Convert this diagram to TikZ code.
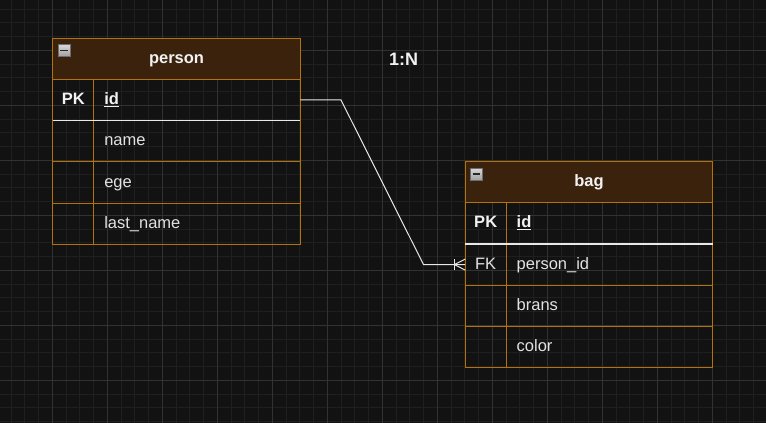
\documentclass[tikz,border=0pt]{standalone}
\usepackage{fontspec}
\setmainfont{Liberation Sans}
\definecolor{bgc}{RGB}{18,18,18}
\definecolor{gminor}{RGB}{31,31,31}
\definecolor{gmajor}{RGB}{50,50,50}
\definecolor{ero}{RGB}{180,115,10}
\definecolor{hdrfill}{RGB}{58,34,12}
\definecolor{txt}{RGB}{226,226,226}
\definecolor{txtw}{RGB}{242,242,242}
\definecolor{conncol}{RGB}{232,232,232}
\definecolor{iconbd}{RGB}{110,110,110}
\definecolor{icontop}{RGB}{215,215,215}
\definecolor{iconbot}{RGB}{160,160,160}
\definecolor{icondash}{RGB}{40,40,40}
\begin{document}
\begin{tikzpicture}[x=1pt,y=-1pt,
  every node/.style={outer sep=0pt, font=\fontsize{16.5}{19}\selectfont},
  hdr/.style={draw=ero, fill=hdrfill, line width=1pt, anchor=north west,
    minimum width=247.5pt, minimum height=41.3pt, inner sep=0pt, text=txtw,
    font=\fontsize{16.5}{19}\selectfont\bfseries, text height=12pt, text depth=2.8pt},
  keyc/.style={draw=ero, line width=1pt, anchor=north west, minimum width=41pt,
    minimum height=41.25pt, inner sep=0pt, text height=12pt, text depth=2.8pt, text=txt},
  keyb/.style={keyc, font=\fontsize{16.5}{19}\selectfont\bfseries, text=txtw},
  fieldc/.style={draw=ero, line width=1pt, anchor=north west, text width=185.5pt,
    inner xsep=10.5pt, inner ysep=0pt, minimum height=41.25pt, align=left,
    text height=12pt, text depth=2.8pt, text=txt},
  fieldb/.style={fieldc, font=\fontsize{16.5}{19}\selectfont\bfseries, text=txtw},
  minusicon/.style={draw=iconbd, line width=0.8pt, minimum size=12pt, inner sep=0pt,
    top color=icontop, bottom color=iconbot,
    path picture={\draw[icondash, line width=1.8pt]
      ([xshift=2.3pt]path picture bounding box.west) --
      ([xshift=-2.3pt]path picture bounding box.east);}},
  sepline/.style={draw=conncol, line width=1.3pt},
  conn/.style={draw=conncol, line width=1pt, line join=miter},
  gridminor/.style={draw=gminor, line width=1pt},
  gridmajor/.style={draw=gmajor, line width=1pt}
]
\useasboundingbox (0,0) rectangle (766,423);
\fill[bgc] (0,0) rectangle (766,423);
\begin{scope}
  \clip (0,0) rectangle (766,423);
  \foreach \i in {0,...,55} \draw[gridminor] ({11.05+13.75*\i},0) -- ++(0,423);
  \foreach \j in {0,...,30} \draw[gridminor] (0,{9.05+13.75*\j}) -- ++(766,0);
  \foreach \i in {0,...,13} \draw[gridmajor] ({52.3+55*\i},0) -- ++(0,423);
  \foreach \j in {0,...,7} \draw[gridmajor] (0,{50.3+55*\j}) -- ++(766,0);
\end{scope}

% person table
\node[hdr] (person) at (52.8,38) {person};
\node[minusicon] (p-min) at (64,50.5) {};
\node[keyb] (p-idk) at (person.south west) {PK};
\node[fieldb] (p-idf) at (p-idk.north east) {\underline{id}};
\node[keyc] (p-namek) at (p-idk.south west) {};
\node[fieldc] (p-namef) at (p-namek.north east) {name};
\node[keyc] (p-egek) at (p-namek.south west) {};
\node[fieldc] (p-egef) at (p-egek.north east) {ege};
\node[keyc] (p-lastk) at (p-egek.south west) {};
\node[fieldc] (p-lastf) at (p-lastk.north east) {last\_name};
\draw[sepline] (p-idk.south west) -- (p-idf.south east);

% bag table
\node[hdr, minimum height=41pt] (bag) at (465.2,161.7) {bag};
\node[minusicon] (b-min) at (476.4,174.2) {};
\node[keyb] (b-idk) at (bag.south west) {PK};
\node[fieldb] (b-idf) at (b-idk.north east) {\underline{id}};
\node[keyc] (b-fkk) at (b-idk.south west) {FK};
\node[fieldc] (b-fkf) at (b-fkk.north east) {person\_id};
\node[keyc] (b-bransk) at (b-fkk.south west) {};
\node[fieldc] (b-bransf) at (b-bransk.north east) {brans};
\node[keyc] (b-colk) at (b-bransk.south west) {};
\node[fieldc] (b-colf) at (b-colk.north east) {color};
\draw[sepline] (b-idk.south west) -- (b-idf.south east);

% cardinality label
\node[font=\fontsize{18}{21}\selectfont\bfseries, text=txtw, anchor=base, inner sep=0pt]
  (card) at (403.7,65.7) {1:N};

% connector
\draw[conn] (p-idf.east) -- ++(40.7,0) -- ([xshift=-41.7pt]b-fkk.west) -- (b-fkk.west);
\draw[conn] ([xshift=-10.8pt]b-fkk.west) -- ([yshift=5.5pt]b-fkk.west);
\draw[conn] ([xshift=-10.8pt]b-fkk.west) -- ([yshift=-5.5pt]b-fkk.west);
\draw[conn] ([xshift=-10.8pt,yshift=5.2pt]b-fkk.west) -- ([xshift=-10.8pt,yshift=-5.2pt]b-fkk.west);
\end{tikzpicture}
\end{document}
